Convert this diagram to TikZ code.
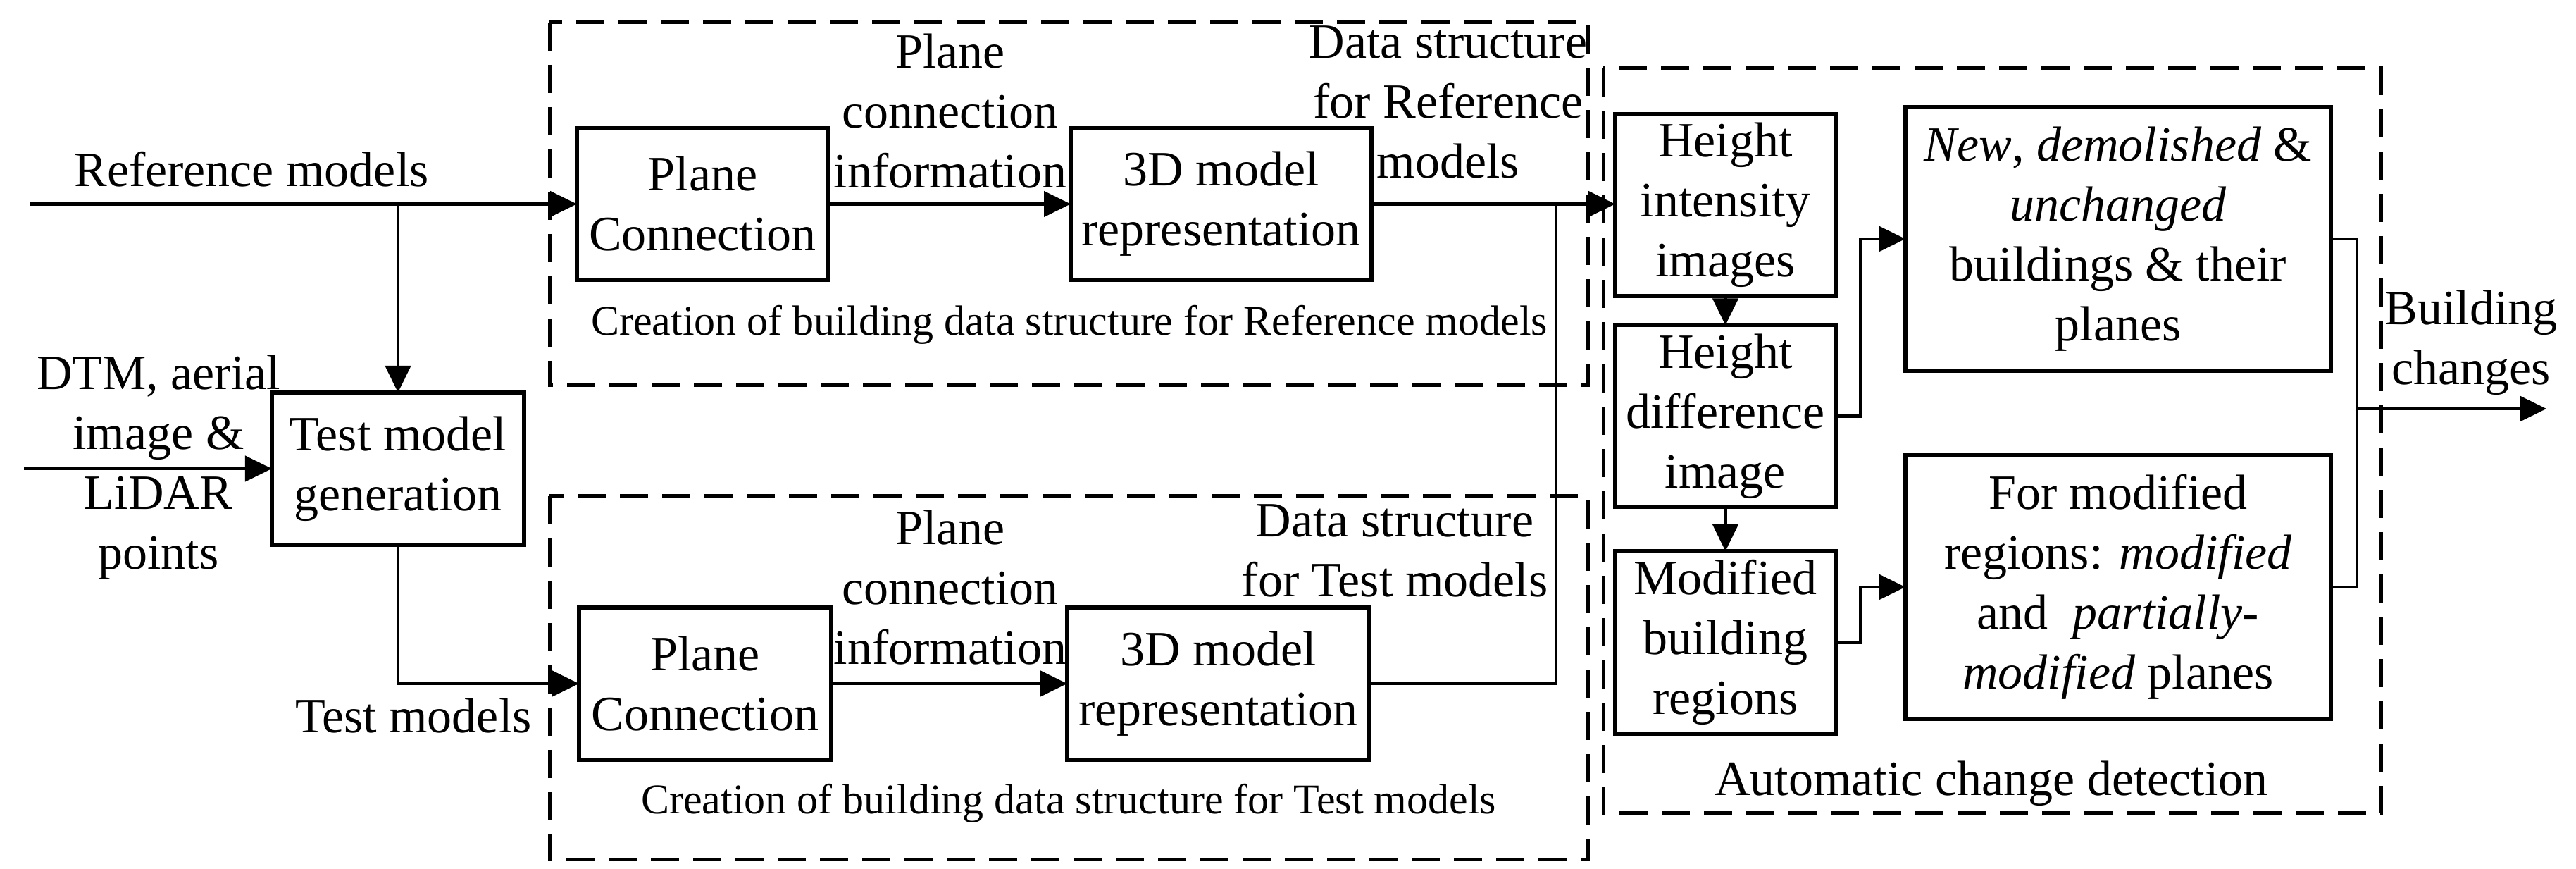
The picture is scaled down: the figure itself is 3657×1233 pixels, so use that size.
\documentclass[tikz,border=0pt]{standalone}
\usepackage{fontspec}
\setmainfont{Liberation Serif}
\usetikzlibrary{arrows.meta}
\newcommand{\bigf}{\fontsize{14pt}{17pt}\selectfont}
\newcommand{\smallf}{\fontsize{12pt}{14.5pt}\selectfont}
\begin{document}
\begin{tikzpicture}[x=0.2pt,y=-0.2pt,
  box/.style={draw, line width=1.1pt, inner sep=0pt, outer sep=0pt, align=center, font=\bigf},
  lbl/.style={inner sep=0pt, outer sep=0pt, align=center, font=\bigf, anchor=base},
  captxt/.style={inner sep=0pt, outer sep=0pt, align=center, font=\smallf, anchor=base},
  grp/.style={draw, line width=1pt, dash pattern=on 8pt off 4pt},
  line/.style={line width=0.9pt},
  arr/.style={line width=0.9pt, -{Triangle[length=7.6pt,width=7.2pt]}}]
\useasboundingbox (0,0) rectangle (3657,1233);

% group frames
\draw[grp] (780,32) rectangle (2254,547);
\draw[grp] (780,704) rectangle (2254,1220);
\draw[grp] (2276,97) rectangle (3380,1154);

% boxes
\node[box, minimum width=71.4pt, minimum height=43pt] (pcR) at (997.5,289.5) {Plane\\Connection};
\node[box, minimum width=85.4pt, minimum height=43pt] (mdR) at (1733.5,289.5) {3D model\\representation};
\node[box, minimum width=71.6pt, minimum height=43.2pt] (tmg) at (565,665) {Test model\\generation};
\node[box, minimum width=71.6pt, minimum height=43.2pt] (pcT) at (1001,970) {Plane\\Connection};
\node[box, minimum width=85.8pt, minimum height=43.2pt] (mdT) at (1729.5,970) {3D model\\representation};
\node[box, minimum width=62.6pt, minimum height=51.6pt] (hi) at (2449.5,291) {Height\\intensity\\images};
\node[box, minimum width=62.6pt, minimum height=51.6pt] (hd) at (2449.5,590.5) {Height\\difference\\image};
\node[box, minimum width=62.6pt, minimum height=51.8pt] (mb) at (2449.5,911.5) {Modified\\building\\regions};
\node[box, minimum width=120.8pt, minimum height=74.8pt] (nd) at (3007,339) {\textit{New}, \textit{demolished} \&\\\textit{unchanged}\\buildings \& their\\planes};
\node[box, minimum width=120.8pt, minimum height=74.8pt] (fm) at (3007,833) {For modified\\regions: \textit{modified}\\and~ \textit{partially}-\\\textit{modified} planes};

% free ends
\coordinate (refin) at (42,289.5);
\coordinate (refbr) at (565,289.5);
\coordinate (dtmin) at (34,665);
\coordinate (join) at (2209,289.5);
\coordinate (outs) at (3346,580);
\coordinate (oute) at (3615,580);

% connectors
\draw[arr] (refin) -- (pcR.west);
\draw[arr] (refbr) -- (tmg.north);
\draw[arr] (dtmin) -- (tmg.west);
\draw[arr] (tmg.south) |- (pcT.west);
\draw[arr] (pcR.east) -- (mdR.west);
\draw[arr] (pcT.east) -- (mdT.west);
\draw[arr] (mdR.east) -- (mdR.east -| hi.west);
\draw[line] (mdT.east) -| (join);
\draw[arr] (hi.south) -- (hd.north);
\draw[arr] (hd.south) -- (mb.north);
\draw[arr] (hd.east) -- ++(35,0) |- (nd.west);
\draw[arr] (mb.east) -- ++(35,0) |- (fm.west);
\draw[line] (nd.east) -- ++(37,0) |- (fm.east);
\draw[arr] (outs) -- (oute);

% labels (anchor base = baseline of the last line)
\node[lbl] (lref) at (357,265) {Reference models};
\node[lbl] (ldtm) at (225,808) {DTM, aerial\\image \&\\LiDAR\\points};
\node[lbl] (ltest) at (587,1040) {Test models};
\node[lbl] (lpc1) at (1349,267) {Plane\\connection\\information};
\node[lbl] (lpc2) at (1349,943) {Plane\\connection\\information};
\node[lbl] (ldsR) at (2056,253) {Data structure\\for Reference\\models};
\node[lbl] (ldsT) at (1980,847) {Data structure\\for Test models};
\node[captxt] (lcrR) at (1518,476) {Creation of building data structure for Reference models};
\node[captxt] (lcrT) at (1517,1155) {Creation of building data structure for Test models};
\node[lbl] (lacd) at (2827,1129) {Automatic change detection};
\node[lbl] (lbc) at (3508,546) {Building\\changes};
\end{tikzpicture}
\end{document}
